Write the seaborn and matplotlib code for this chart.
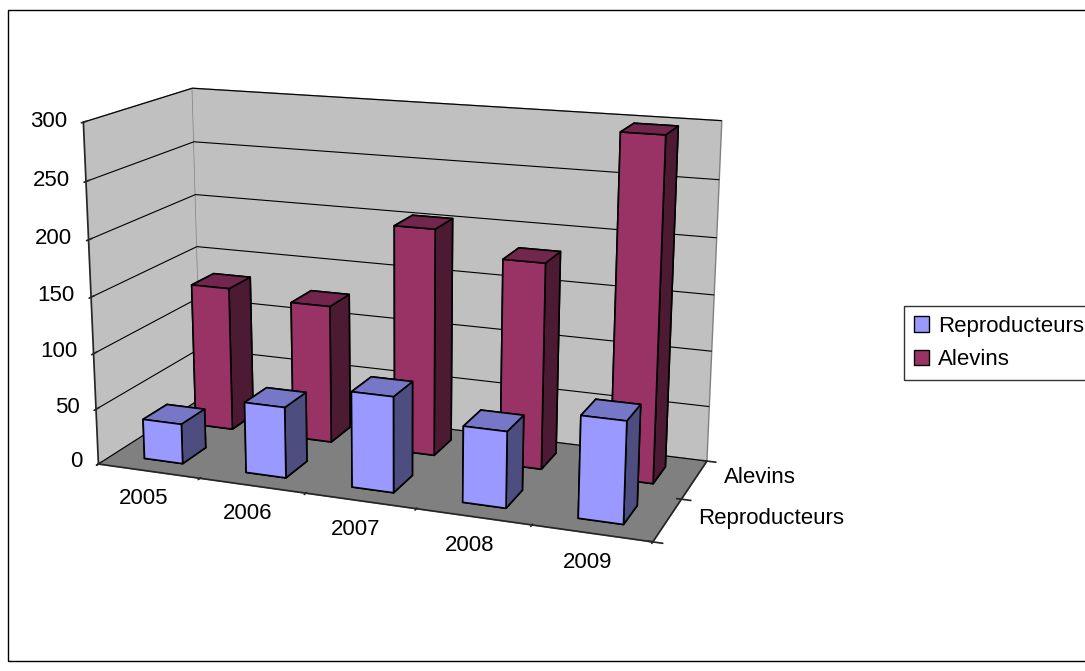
import numpy as np
import matplotlib
matplotlib.use("Agg")
import matplotlib.pyplot as plt
from matplotlib.patches import Patch, Rectangle
import seaborn as sns

years = ["2005", "2006", "2007", "2008", "2009"]
series = ["Reproducteurs", "Alevins"]
reproducteurs = [36, 63, 84, 66, 87]
alevins = [133, 126, 204, 183, 298]
zticks = [0, 50, 100, 150, 200, 250, 300]

# face colours (bottom, top, front, back, left, right) like the Excel shading
faces_repro = ["#9999FF", "#7777C8", "#9999FF", "#9999FF", "#4D4D80", "#4D4D80"]
faces_alev = ["#993366", "#73264D", "#993366", "#993366", "#4D1A33", "#4D1A33"]

sns.set_theme(style="white")
plt.rcParams["font.family"] = ["Liberation Sans", "DejaVu Sans"]
plt.rcParams["text.color"] = "black"

fig = plt.figure(figsize=(10.85, 6.71), dpi=100)
ax = fig.add_axes([0.002, -0.057, 0.72, 1.2], projection="3d", proj_type="persp", focal_length=0.45)
ax.computed_zorder = False

bw, bd = 0.38, 0.45
xs = np.arange(len(years))
for j, (vals, faces) in enumerate([(reproducteurs, faces_repro), (alevins, faces_alev)]):
    ax.bar3d(xs - bw / 2, np.full(len(xs), j - bd / 2), np.zeros(len(xs)),
             bw, bd, vals, color=faces * len(xs), edgecolor="black",
             linewidth=1.2, shade=False, zorder=3 - j)

ax.set_xlim(-0.5, 4.5)
ax.set_ylim(-0.5, 1.5)
ax.set_zlim(0, 300)
ax.set_box_aspect((5, 2.0, 3.05), zoom=0.89)
ax.view_init(elev=15, azim=-69)

# walls and floor
ax.xaxis.set_pane_color("#C0C0C0")
ax.yaxis.set_pane_color("#C0C0C0")
ax.zaxis.set_pane_color("#808080")
for a in (ax.xaxis, ax.yaxis, ax.zaxis):
    a.pane.set_edgecolor("#808080")
ax.xaxis._axinfo["grid"].update(color=(0, 0, 0, 0))
ax.yaxis._axinfo["grid"].update(color=(0, 0, 0, 0))
ax.zaxis._axinfo["grid"].update(color="black", linewidth=0.8)

# ticks sit between categories, labels in the middle
ax.set_xticks(np.arange(-0.5, len(years), 1.0))
ax.set_xticklabels([])
ax.set_yticks([-0.5, 0.5, 1.5])
ax.set_yticklabels([])
ax.set_zticks(zticks)
ax.set_zticklabels([])
ax.zaxis.set_ticks_position("lower")
ax.zaxis._axinfo["tick"]["outward_factor"] = 0.35

for v in zticks:
    ax.text(-0.66, -0.5, v, str(v), fontsize=16, ha="right", va="center", zorder=5)
for i, yr in enumerate(years):
    ax.text(i, -0.6, -12, yr, fontsize=16, ha="center", va="top", zorder=5)
for j, s in enumerate(series):
    ax.text(4.75, j, 5, s, fontsize=16, ha="left", va="center", zorder=5)

# legend
handles = [Patch(facecolor=faces_repro[0], edgecolor="black", label=series[0]),
           Patch(facecolor=faces_alev[0], edgecolor="black", label=series[1])]
fig.legend(handles=handles, loc="upper left", bbox_to_anchor=(0.833, 0.544),
           fontsize=16, frameon=True, fancybox=False, edgecolor="black",
           handlelength=0.7, handleheight=0.7, handletextpad=0.4, borderpad=0.45,
           labelspacing=0.55, borderaxespad=0)

# outer chart border
fig.add_artist(Rectangle((8 / 1085, 10 / 671), 1.0, 651 / 671, transform=fig.transFigure,
                         fill=False, edgecolor="black", linewidth=1))

fig.savefig("out.png", dpi=100)
